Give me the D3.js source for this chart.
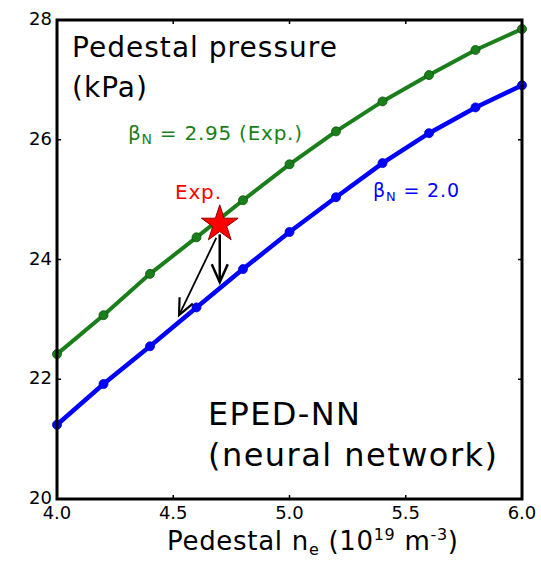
<!DOCTYPE html>
<html><head><meta charset="utf-8">
<script src="https://cdn.jsdelivr.net/npm/d3@7"></script>
<style>body{margin:0;background:#fff}</style>
</head><body>
<script>
const densities = [4.0, 4.2, 4.4, 4.6, 4.8, 5.0, 5.2, 5.4, 5.6, 5.8, 6.0];
const pressureBeta295 = [22.42, 23.07, 23.76, 24.37, 24.99, 25.59, 26.14, 26.64, 27.08, 27.50, 27.85];
const pressureBeta20 = [21.24, 21.92, 22.55, 23.20, 23.84, 24.46, 25.04, 25.61, 26.11, 26.54, 26.91];
const expPoint = [4.70, 24.59];
const xTicks = [4.0, 4.5, 5.0, 5.5, 6.0];
const yTicks = [20, 22, 24, 26, 28];
const arrows = [[[4.70, 24.42], [4.70, 23.62]], [[4.685, 24.36], [4.525, 23.07]]];

const W = 541, H = 564;
const m = {l: 57, r: 19, t: 20, b: 65};
const svg = d3.select("body").append("svg").attr("width", W).attr("height", H);
const x = d3.scaleLinear().domain([4, 6]).range([m.l, W - m.r]);
const y = d3.scaleLinear().domain([20, 28]).range([H - m.b, m.t]);
const tickFont = "DejaVu Sans, sans-serif";
const annFont = "DejaVu Sans, sans-serif";

// lines
const line = d3.line().x((d, i) => x(densities[i])).y(d => y(d));
[[pressureBeta295, "#1a7f1a", 4], [pressureBeta20, "#0000ff", 4.5]].forEach(([vals, c, w]) => {
  svg.append("path").attr("d", line(vals)).attr("fill", "none").attr("stroke", c).attr("stroke-width", w);
  svg.selectAll(null).data(vals).enter().append("circle")
    .attr("cx", (d, i) => x(densities[i])).attr("cy", d => y(d)).attr("r", 4.5)
    .attr("fill", c).attr("stroke", c === "#0000ff" ? "#0000cc" : "#0d500d").attr("stroke-width", 0.8);
});

// arrows
svg.append("line").attr("x1", x(arrows[0][0][0])).attr("y1", y(arrows[0][0][1]))
  .attr("x2", x(arrows[0][1][0])).attr("y2", y(arrows[0][1][1]))
  .attr("stroke", "#000").attr("stroke-width", 2.5);
svg.append("path").attr("d", d3.line()([[x(arrows[0][1][0]) - 8, y(arrows[0][1][1]) - 18], [x(arrows[0][1][0]), y(arrows[0][1][1])], [x(arrows[0][1][0]) + 8, y(arrows[0][1][1]) - 18]]))
  .attr("fill", "none").attr("stroke", "#000").attr("stroke-width", 2.5);
{
  const [a, b] = arrows[1];
  const x1 = x(a[0]), y1 = y(a[1]), x2 = x(b[0]), y2 = y(b[1]);
  svg.append("line").attr("x1", x1).attr("y1", y1).attr("x2", x2).attr("y2", y2)
    .attr("stroke", "#000").attr("stroke-width", 1.8);
  const ang = Math.atan2(y2 - y1, x2 - x1);
  const L = 18, s = 0.42;
  const p1 = [x2 - L * Math.cos(ang - s), y2 - L * Math.sin(ang - s)];
  const p2 = [x2 - L * Math.cos(ang + s), y2 - L * Math.sin(ang + s)];
  svg.append("path").attr("d", d3.line()([p1, [x2, y2], p2])).attr("fill", "none")
    .attr("stroke", "#000").attr("stroke-width", 2.2);
}

// star
const star = d3.symbol().type(d3.symbolStar).size(420);
svg.append("path").attr("d", star()).attr("transform", `translate(${x(expPoint[0])},${y(expPoint[1])})`)
  .attr("fill", "#ff0000").attr("stroke", "#8b0000").attr("stroke-width", 1);

// frame and ticks
const g = svg.append("g");
g.append("rect").attr("x", x(4)).attr("y", y(28)).attr("width", x(6) - x(4)).attr("height", y(20) - y(28))
  .attr("fill", "none").attr("stroke", "#000").attr("stroke-width", 3);
const tl = 4;
xTicks.forEach(t => {
  g.append("line").attr("x1", x(t)).attr("x2", x(t)).attr("y1", y(20)).attr("y2", y(20) - tl).attr("stroke", "#000").attr("stroke-width", 1.5);
  g.append("line").attr("x1", x(t)).attr("x2", x(t)).attr("y1", y(28)).attr("y2", y(28) + tl).attr("stroke", "#000").attr("stroke-width", 1.5);
  g.append("text").attr("x", x(t)).attr("y", y(20) + 20).attr("text-anchor", "middle")
    .attr("font-family", tickFont).attr("font-size", 18).text(d3.format(".1f")(t));
});
yTicks.forEach(t => {
  g.append("line").attr("y1", y(t)).attr("y2", y(t)).attr("x1", x(4)).attr("x2", x(4) + tl).attr("stroke", "#000").attr("stroke-width", 1.5);
  g.append("line").attr("y1", y(t)).attr("y2", y(t)).attr("x1", x(6)).attr("x2", x(6) - tl).attr("stroke", "#000").attr("stroke-width", 1.5);
  g.append("text").attr("x", x(4) - 5).attr("y", y(t) + 5).attr("text-anchor", "end")
    .attr("font-family", tickFont).attr("font-size", 18).text(t);
});

// annotations
function txt(xp, yp, s, size, color, len) {
  const t = svg.append("text").attr("x", xp).attr("y", yp).attr("font-family", annFont)
    .attr("font-size", size).attr("fill", color || "#000").text(s);
  if (len) t.attr("textLength", len).attr("lengthAdjust", "spacing");
  return t;
}
txt(72, 57, "Pedestal pressure", 28, "#000", 265);
txt(72, 97, "(kPa)", 28, "#000", 75);
const gb = svg.append("text").attr("x", 128).attr("y", 140).attr("font-family", tickFont).attr("font-size", 20).attr("fill", "#1a7f1a")
  .attr("textLength", 174).attr("lengthAdjust", "spacing");
gb.append("tspan").text("β");
gb.append("tspan").attr("font-size", 14).attr("dy", 4).text("N");
gb.append("tspan").attr("dy", -4).text(" = 2.95 (Exp.)");
txt(175, 199, "Exp.", 20, "#ff0000", 46);
const bb = svg.append("text").attr("x", 373).attr("y", 197).attr("font-family", tickFont).attr("font-size", 19).attr("fill", "#0000ff")
  .attr("textLength", 86).attr("lengthAdjust", "spacing");
bb.append("tspan").text("β");
bb.append("tspan").attr("font-size", 13).attr("dy", 4).text("N");
bb.append("tspan").attr("dy", -4).text(" = 2.0");
txt(208, 425, "EPED-NN", 32, "#000", 152);
txt(208, 466, "(neural network)", 32, "#000", 289);
const xl = svg.append("text").attr("x", 167).attr("y", 550)
  .attr("font-family", annFont).attr("font-size", 26).attr("fill", "#000")
  .attr("textLength", 291).attr("lengthAdjust", "spacing");
xl.append("tspan").text("Pedestal n");
xl.append("tspan").attr("font-size", 16).attr("dy", 5).text("e");
xl.append("tspan").attr("dy", -5).text(" (10");
xl.append("tspan").attr("font-size", 16).attr("dy", -10).text("19");
xl.append("tspan").attr("dy", 10).text(" m");
xl.append("tspan").attr("font-size", 16).attr("dy", -10).text("-3");
xl.append("tspan").attr("dy", 10).text(")");
</script>
</body></html>
